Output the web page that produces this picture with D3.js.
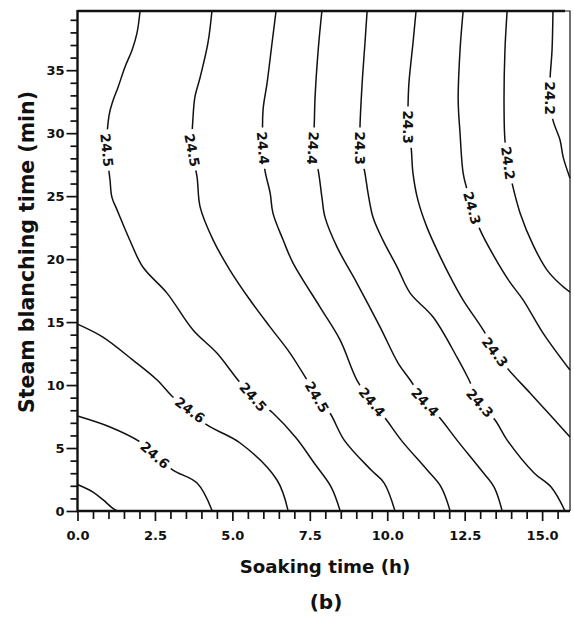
<!DOCTYPE html>
<html>
<head>
<meta charset="utf-8">
<script src="https://cdn.jsdelivr.net/npm/d3@7"></script>
<style>
body { margin: 0; background: #fff; }
svg { display: block; font-family: "DejaVu Sans", "Liberation Sans", Arial, sans-serif; font-weight: bold; }
</style>
</head>
<body>
<div id="chart"></div>
<script>
// axis ranges
var soakRange   = [0, 15.9],
    blanchRange = [0, 39.7];

var xTickValues = [0, 2.5, 5, 7.5, 10, 12.5, 15];
var yTickValues = [0, 5, 10, 15, 20, 25, 30, 35];

// contour lines: [soaking time (h), blanching time (min)]
var c247  = [[0, 2.1], [0.5, 1.5], [0.82, 0.9], [1.12, 0.25], [1.28, 0]];
var c246a = [[0, 7.54], [1.05, 6.67], [2.02, 5.48], [2.5, 4.44], [3.08, 3.25], [3.86, 2.22], [4.35, 0]];
var c246b = [[0, 14.84], [0.82, 13.81], [1.79, 11.98], [2.57, 10.4], [3.08, 9.05], [3.63, 8.02],
             [4.18, 6.83], [5.25, 5.4], [6.44, 2.46], [6.8, 0]];
var c245a = [[2.02, 39.7], [1.92, 37.94], [1.76, 36.59], [1.53, 35.24], [1.31, 33.65], [1.15, 32.62],
             [1.02, 31.43], [0.95, 28.65], [1.05, 26.27], [1.11, 24.92], [1.28, 23.89], [1.69, 21.5],
             [2.11, 19.37], [2.89, 17.3], [3.73, 14.37], [4.5, 12.54], [5.18, 10.4], [5.67, 9.05],
             [6.31, 7.78], [7.06, 5.79], [7.64, 3.81], [8.19, 1.9], [8.48, 0]];
var c245b = [[4.34, 39.7], [4.21, 37.14], [3.96, 34.44], [3.79, 32.86], [3.73, 31.27], [3.7, 28.65],
             [3.86, 26.51], [3.96, 24.13], [4.38, 21.51], [4.92, 19.13], [5.57, 16.75], [6.22, 14.6],
             [6.86, 12.54], [7.41, 10.4], [7.73, 9.05], [8.15, 7.78], [8.61, 5.63], [9.48, 3.25],
             [9.9, 2.22], [10.25, 0]];
var c244a = [[6.41, 39.7], [6.28, 37.14], [6.12, 33.97], [5.99, 31.83], [5.99, 28.81], [6.05, 27.06],
             [6.22, 25.24], [6.31, 23.65], [6.64, 21.51], [6.96, 19.68], [7.83, 16.19], [8.48, 13.57],
             [9.02, 10.4], [9.51, 8.65], [9.93, 7.38], [10.45, 5.63], [11.29, 3.25], [11.74, 1.9], [12.03, 0]];
var c244b = [[7.89, 39.7], [7.77, 36.59], [7.67, 32.86], [7.64, 30.48], [7.6, 28.81], [7.77, 27.06],
             [7.89, 24.92], [7.99, 23.33], [8.38, 20.95], [9.02, 18.1], [9.77, 14.6], [10.35, 11.75],
             [10.74, 10.4], [11.22, 8.65], [11.7, 7.38], [12.25, 5.63], [13.03, 3.25], [13.45, 1.9], [13.71, 0]];
var c243a = [[9.35, 39.7], [9.28, 37.14], [9.19, 33.97], [9.12, 30.48], [9.12, 28.81], [9.28, 26.83],
             [9.38, 25.24], [9.54, 23.33], [9.86, 21.51], [10.32, 19.37], [10.74, 17.3], [11.48, 15.4],
             [12.25, 12.22], [12.61, 10.56], [12.99, 8.57], [13.48, 7.22], [13.87, 5.63], [14.74, 3.02],
             [15.29, 1.9], [15.74, 0]];
var c243b = [[10.93, 39.7], [10.83, 37.14], [10.7, 33.97], [10.67, 32.06], [10.67, 30.48], [10.77, 28.89],
             [10.83, 26.83], [10.99, 24.68], [11.28, 22.54], [11.7, 20.24], [12.09, 18.33], [12.45, 16.75],
             [13.16, 14.13], [13.48, 12.62], [13.87, 11.35], [14.61, 9.37], [15.26, 7.62], [15.9, 5.87]];
var c243c = [[12.45, 39.7], [12.35, 36.59], [12.29, 32.62], [12.35, 30.0], [12.45, 26.83], [12.58, 25.48],
             [12.74, 24.05], [13.0, 22.3], [13.48, 20.08], [13.96, 18.17], [14.39, 16.75], [15.03, 14.13],
             [15.9, 11.19]];
var c242a = [[13.87, 39.7], [13.8, 36.59], [13.77, 32.62], [13.8, 29.44], [13.9, 27.62], [14.06, 25.71],
             [14.29, 23.65], [14.71, 21.11], [15.16, 19.13], [15.58, 18.02], [15.9, 17.38]];
var c242b = [[15.35, 39.7], [15.32, 36.59], [15.26, 34.44], [15.26, 32.78], [15.35, 31.03], [15.58, 29.44],
             [15.68, 28.1], [15.9, 26.43]];

var contours = [c247, c246a, c246b, c245a, c245b, c244a, c244b, c243a, c243b, c243c, c242a, c242b];

// contour labels: [text, soaking time, blanching time]
var labels = [
  ["24.6", 2.5, 4.44],   ["24.6", 3.63, 8.02],
  ["24.5", 0.95, 28.65], ["24.5", 5.67, 9.05],
  ["24.5", 3.7, 28.65],  ["24.5", 7.73, 9.05],
  ["24.4", 5.99, 28.81], ["24.4", 9.51, 8.65],
  ["24.4", 7.6, 28.81],  ["24.4", 11.22, 8.65],
  ["24.3", 9.12, 28.81], ["24.3", 12.99, 8.57],
  ["24.3", 10.67, 30.48],["24.3", 13.48, 12.62],
  ["24.3", 12.74, 24.05],
  ["24.2", 13.9, 27.62], ["24.2", 15.26, 32.78]
];

var margin = {top: 11, left: 77.5, right: 4, bottom: 107},
    width  = 574 - margin.left - margin.right,
    height = 618 - margin.top - margin.bottom;

var svg = d3.select("#chart").append("svg")
    .attr("width", 574)
    .attr("height", 618);

var g = svg.append("g").attr("transform", "translate(" + margin.left + "," + margin.top + ")");

var x = d3.scaleLinear().domain(soakRange).range([0, width]),
    y = d3.scaleLinear().domain(blanchRange).range([height, 0]);

var line = d3.line()
    .x(function(d) { return x(d[0]); })
    .y(function(d) { return y(d[1]); })
    .curve(d3.curveCatmullRom.alpha(0.5));

g.selectAll(".contour")
  .data(contours)
  .enter().append("path")
    .attr("class", "contour")
    .attr("d", line)
    .attr("fill", "none")
    .attr("stroke", "#111")
    .attr("stroke-width", 1.5);

// labels sit on the line, turned to follow it
function angleAt(px, py) {
  var best = Infinity, ang = 0;
  contours.forEach(function(c) {
    for (var i = 0; i < c.length - 1; i++) {
      var x1 = x(c[i][0]), y1 = y(c[i][1]), x2 = x(c[i+1][0]), y2 = y(c[i+1][1]);
      var mx = (x1 + x2) / 2, my = (y1 + y2) / 2;
      var dd = (mx - px) * (mx - px) + (my - py) * (my - py);
      if (dd < best) { best = dd; ang = Math.atan2(y2 - y1, x2 - x1) * 180 / Math.PI; }
    }
  });
  if (ang > 100) ang -= 180;
  if (ang <= -80) ang += 180;
  return ang;
}

labels.forEach(function(l) {
  var px = x(l[1]), py = y(l[2]);
  var lg = g.append("g")
      .attr("transform", "translate(" + px + "," + py + ") rotate(" + angleAt(px, py) + ")");
  var r = lg.append("rect").attr("fill", "#fff");
  var t = lg.append("text")
      .attr("text-anchor", "middle")
      .attr("dy", "0.36em")
      .attr("font-size", 13.5)
      .attr("fill", "#111")
      .text(l[0]);
  var w = t.node().getComputedTextLength() + 8;
  r.attr("x", -w / 2).attr("y", -7).attr("width", w).attr("height", 14);
});

// axes
var xMinor = d3.range(0, 15.6, 0.5).filter(function(v) { return v % 2.5 !== 0; }),
    yMinor = d3.range(0, 40, 1).filter(function(v) { return v % 5 !== 0; });

g.append("g")
  .attr("transform", "translate(0," + height + ")")
  .call(d3.axisBottom(x).tickValues(xMinor).tickSize(8).tickFormat(""))
  .call(function(s) { s.select(".domain").remove(); });

g.append("g")
  .attr("class", "axis axis--x")
  .attr("transform", "translate(0," + height + ")")
  .call(d3.axisBottom(x).tickValues(xTickValues).tickSize(10).tickPadding(10).tickFormat(d3.format(".1f")))
  .call(function(s) { s.select(".domain").remove(); });

g.append("g")
  .call(d3.axisLeft(y).tickValues(yMinor).tickSize(7).tickFormat(""))
  .call(function(s) { s.select(".domain").remove(); });

g.append("g")
  .attr("class", "axis axis--y")
  .call(d3.axisLeft(y).tickValues(yTickValues).tickSize(11).tickPadding(2))
  .call(function(s) { s.select(".domain").remove(); });

g.selectAll(".tick line").attr("stroke", "#111").attr("stroke-width", 1.7);
g.selectAll(".axis text")
  .attr("font-family", "'DejaVu Sans', sans-serif")
  .attr("font-size", 13)
  .attr("font-weight", "bold")
  .attr("fill", "#111");

// frame
g.append("path")
  .attr("d", "M0,0H" + width + "V" + height)
  .attr("fill", "none").attr("stroke", "#111").attr("stroke-width", 1.2);
g.append("path")
  .attr("d", "M0,-1V" + height + "H" + width)
  .attr("fill", "none").attr("stroke", "#111").attr("stroke-width", 2.4);
g.append("line")
  .attr("x1", 0).attr("x2", width * 0.99).attr("y1", 0).attr("y2", 0)
  .attr("stroke", "#111").attr("stroke-width", 2.6);

// titles
svg.append("text")
  .attr("transform", "translate(34," + (margin.top + 241) + ") rotate(-90)")
  .attr("text-anchor", "middle")
  .attr("font-size", 20.5)
  .attr("fill", "#111")
  .text("Steam blanching time (min)");

svg.append("text")
  .attr("x", 325).attr("y", 573)
  .attr("text-anchor", "middle")
  .attr("font-size", 18.2)
  .attr("fill", "#111")
  .text("Soaking time (h)");

svg.append("text")
  .attr("x", 326).attr("y", 609)
  .attr("text-anchor", "middle")
  .attr("font-size", 20)
  .attr("fill", "#111")
  .text("(b)");
</script>
</body>
</html>
